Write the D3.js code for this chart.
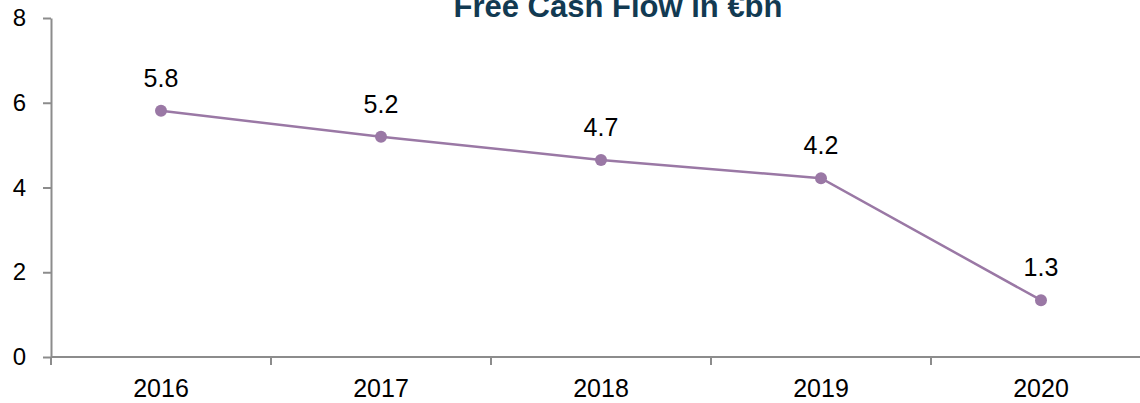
<!DOCTYPE html>
<html>
<head>
<meta charset="utf-8">
<script src="https://cdn.jsdelivr.net/npm/d3@7"></script>
<style>
  body { margin: 0; background: #fff; }
  text { font-family: "Liberation Sans", Arial, sans-serif; }
</style>
</head>
<body>
<div id="chart"></div>
<script>
// data
var years = ["2016", "2017", "2018", "2019", "2020"];
var fcf = [5.81, 5.2, 4.65, 4.22, 1.34];
var yTicks = [0, 2, 4, 6, 8];
var title = "Free Cash Flow in €bn";

var width = 1140, height = 403;
var margin = {top: 18, right: -11, bottom: 46, left: 51};

var svg = d3.select("#chart").append("svg")
    .attr("width", width)
    .attr("height", height);

// scales
var x = d3.scaleBand()
    .domain(years)
    .range([margin.left, width - margin.right]);

var y = d3.scaleLinear()
    .domain([0, 8])
    .range([height - margin.bottom, margin.top]);

var axisColor = "#8c8c8c";

// y axis
var yAxis = svg.append("g")
    .attr("transform", "translate(" + margin.left + ",0)")
    .call(d3.axisLeft(y).tickValues(yTicks).tickSize(8).tickPadding(17).tickSizeOuter(0));
yAxis.select(".domain").attr("stroke", axisColor).attr("stroke-width", 2);
yAxis.selectAll(".tick line").attr("stroke", axisColor).attr("stroke-width", 2);
yAxis.selectAll(".tick text")
    .attr("font-size", 24)
    .attr("fill", "#000")
    .attr("font-family", "Liberation Sans, Arial, sans-serif");

// x axis line, ticks between categories
var x0 = y(0);
svg.append("line")
    .attr("x1", margin.left).attr("x2", width)
    .attr("y1", x0).attr("y2", x0)
    .attr("stroke", axisColor).attr("stroke-width", 2);

svg.selectAll(".xtick")
  .data(years)
  .enter().append("line")
    .attr("class", "xtick")
    .attr("x1", function(d) { return x(d); })
    .attr("x2", function(d) { return x(d); })
    .attr("y1", x0).attr("y2", x0 + 8)
    .attr("stroke", axisColor).attr("stroke-width", 2);

svg.selectAll(".xlabel")
  .data(years)
  .enter().append("text")
    .attr("class", "xlabel")
    .attr("x", function(d) { return x(d) + x.bandwidth() / 2; })
    .attr("y", x0 + 40)
    .attr("text-anchor", "middle")
    .attr("font-size", 25)
    .text(function(d) { return d; });

// line + points
var pts = years.map(function(d, i) { return {year: d, value: fcf[i]}; });
var cx = function(d) { return x(d.year) + x.bandwidth() / 2; };

svg.append("path")
    .datum(pts)
    .attr("fill", "none")
    .attr("stroke", "#9a78a5")
    .attr("stroke-width", 2.5)
    .attr("d", d3.line().x(cx).y(function(d) { return y(d.value); }));

svg.selectAll(".dot")
  .data(pts)
  .enter().append("circle")
    .attr("class", "dot")
    .attr("cx", cx)
    .attr("cy", function(d) { return y(d.value); })
    .attr("r", 6)
    .attr("fill", "#9a78a5");

// value labels
svg.selectAll(".vlabel")
  .data(pts)
  .enter().append("text")
    .attr("class", "vlabel")
    .attr("x", cx)
    .attr("y", function(d) { return y(d.value) - 24; })
    .attr("text-anchor", "middle")
    .attr("font-size", 25)
    .text(function(d) { return d3.format(".1f")(d.value); });

// title, cut at the top like the source
svg.append("text")
    .attr("x", 618)
    .attr("y", 17)
    .attr("text-anchor", "middle")
    .attr("font-size", 31)
    .attr("font-weight", "bold")
    .attr("fill", "#123a52")
    .text(title);
</script>
</body>
</html>
